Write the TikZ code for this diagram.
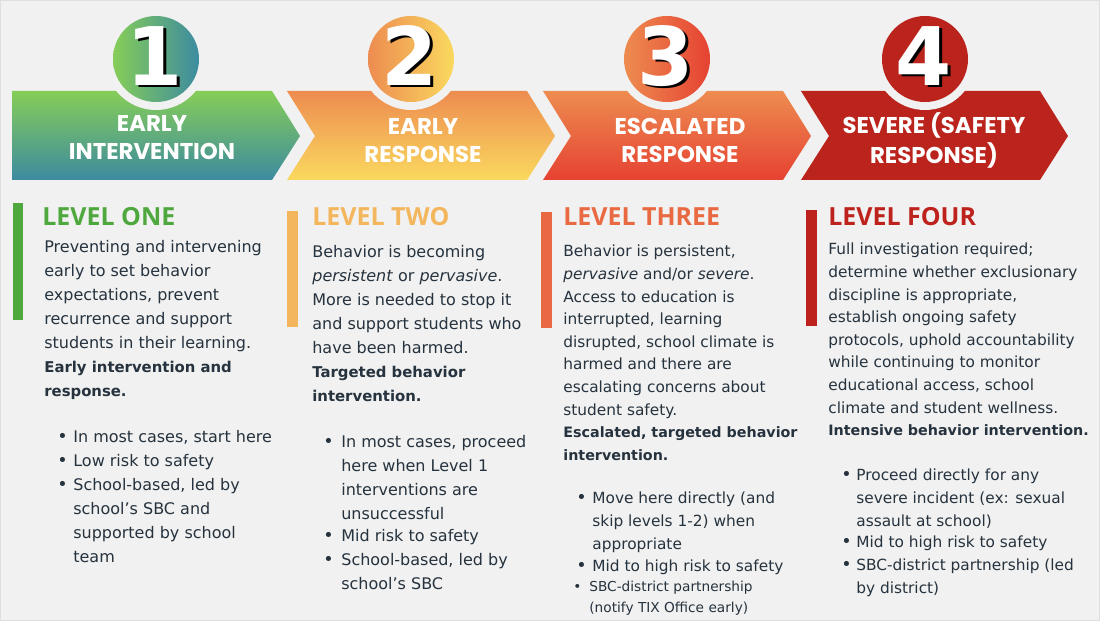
\documentclass[tikz,border=0pt]{standalone}
\usepackage{fontspec}
\setmainfont{DejaVu Sans}[BoldFeatures={Scale=0.93}]
\newfontfamily\bannerfont{Poppins}
\newfontfamily\headfont{Open Sans}
\newfontfamily\digitfont{DejaVu Sans}
\newcommand\linesof[1]{\begin{tabular}[t]{@{}l@{}}#1\end{tabular}}
\newcommand\bannerlines[1]{\begin{tabular}[t]{@{}c@{}}#1\end{tabular}}
\definecolor{paper}{RGB}{240,241,240}
\definecolor{rim}{RGB}{222,224,223}
\definecolor{ink}{RGB}{38,50,62}
\definecolor{greenTop}{RGB}{134,205,88}
\definecolor{tealBot}{RGB}{60,139,160}
\definecolor{orangeTop}{RGB}{237,140,80}
\definecolor{yellowBot}{RGB}{250,217,95}
\definecolor{redBot}{RGB}{230,66,50}
\definecolor{darkRed}{RGB}{186,36,28}
\definecolor{lvlOne}{RGB}{78,168,62}
\definecolor{lvlTwo}{RGB}{244,182,92}
\definecolor{lvlThree}{RGB}{233,106,66}
\definecolor{lvlFour}{RGB}{190,34,28}
\tikzset{
  banner/.style={font=\bannerfont\bfseries\fontsize{13}{15.9}\selectfont, text=white, inner sep=0pt, anchor=base},
  digit/.style={font=\digitfont\bfseries\fontsize{46}{46}\selectfont, text=white, inner sep=0pt},
  digitshade/.style={digit, text=black},
  levelhead/.style={font=\headfont\bfseries\fontsize{14.2}{16}\selectfont, anchor=base west, inner sep=0pt},
  blurb/.style={font=\fontsize{9.1}{13.66}\selectfont, text=ink, anchor=base west, inner sep=0pt},
  blurbtight/.style={blurb, font=\fontsize{8.75}{12.86}\selectfont},
  dot/.style={anchor=base west, inner sep=0pt, text=ink},
}
\begin{document}
\begin{tikzpicture}[x=0.02cm,y=-0.02cm]
\fill[paper] (0,0) rectangle (1100,621);
\useasboundingbox (0,0) rectangle (1100,621);
\draw[rim, line width=0.6pt] (0.5,0.5) rectangle (1099.5,620.5);

% banner arrows
\shade[top color=greenTop, bottom color=tealBot] (12,91) -- (272,91) -- (300,136) -- (272,180) -- (12,180) -- cycle;
\shade[top color=orangeTop, bottom color=yellowBot] (287,91) -- (527,91) -- (555,136) -- (527,180) -- (287,180) -- (315,136) -- cycle;
\shade[top color=orangeTop, bottom color=redBot] (543,91) -- (783,91) -- (811,136) -- (783,180) -- (543,180) -- (571,136) -- cycle;
\fill[darkRed] (801,91) -- (1040,91) -- (1068,136) -- (1040,180) -- (801,180) -- (829,136) -- cycle;

% number badges
\foreach \cx in {156,411,667,925}
  \fill[paper] (\cx,59) circle (51);
\shade[left color=greenTop, right color=tealBot] (156,59) circle (43);
\shade[left color=orangeTop, right color=yellowBot] (411,59) circle (43);
\shade[left color=orangeTop, right color=redBot] (667,59) circle (43);
\fill[darkRed] (925,59) circle (43);

\node[digitshade] at (158,58) {1};
\node[digit] (numA) at (155,56) {1};
\node[digitshade] at (413,58) {2};
\node[digit] (numB) at (410,56) {2};
\node[digitshade] at (669,58) {3};
\node[digit] (numC) at (666,56) {3};
\node[digitshade] at (927,58) {4};
\node[digit] (numD) at (924,56) {4};

\node[banner] (bandA) at (152,132) {\bannerlines{EARLY\\INTERVENTION}};
\node[banner] (bandB) at (423,135) {\bannerlines{EARLY\\RESPONSE}};
\node[banner] (bandC) at (680,135) {\bannerlines{ESCALATED\\RESPONSE}};
\node[banner] (bandD) at (934,134) {\bannerlines{SEVERE (SAFETY\\RESPONSE)}};

% level one
\fill[lvlOne] (13,203) rectangle (23,320);
\node[levelhead, text=lvlOne] (headA) at (42,226) {LEVEL ONE};
\node[blurb] (blurbA) at (44,253) {\linesof{Preventing and intervening\\early to set behavior\\expectations, prevent\\recurrence and support\\students in their learning.\\\textbf{Early intervention and}\\\textbf{response.}}};
\node[dot] at (57,443) {\textbullet};
\node[blurb] (itemA1) at (73,443) {In most cases, start here};
\node[dot] at (57,467) {\textbullet};
\node[blurb] (itemA2) at (73,467) {Low risk to safety};
\node[dot] at (57,491) {\textbullet};
\node[blurb] (itemA3) at (73,491) {\linesof{School-based, led by\\school’s SBC and\\supported by school\\team}};

% level two
\fill[lvlTwo] (287,211) rectangle (298,327);
\node[levelhead, text=lvlTwo] (headB) at (312,226) {LEVEL TWO};
\node[blurb] (blurbB) at (312,258) {\linesof{Behavior is becoming\\\textit{persistent} or \textit{pervasive}.\\More is needed to stop it\\and support students who\\have been harmed.\\\textbf{Targeted behavior}\\\textbf{intervention.}}};
\node[dot] at (323,448) {\textbullet};
\node[blurb] (itemB1) at (341,448) {\linesof{In most cases, proceed\\here when Level 1\\interventions are\\unsuccessful}};
\node[dot] at (323,542) {\textbullet};
\node[blurb] (itemB2) at (341,542) {Mid risk to safety};
\node[dot] at (323,566) {\textbullet};
\node[blurb] (itemB3) at (341,566) {\linesof{School-based, led by\\school’s SBC}};

% level three
\fill[lvlThree] (541,212) rectangle (552,328);
\node[levelhead, text=lvlThree] (headC) at (563,226) {LEVEL THREE};
\node[blurbtight] (blurbC) at (563,257) {\linesof{Behavior is persistent,\\\textit{pervasive} and/or \textit{severe}.\\Access to education is\\interrupted, learning\\disrupted, school climate is\\harmed and there are\\escalating concerns about\\student safety.\\\textbf{Escalated, targeted behavior}\\\textbf{intervention.}}};
\node[dot] at (576,504) {\textbullet};
\node[blurbtight] (itemC1) at (592,504) {\linesof{Move here directly (and\\skip levels 1-2) when\\appropriate}};
\node[dot] at (576,572) {\textbullet};
\node[blurbtight] (itemC2) at (592,572) {Mid to high risk to safety};
\node[dot, font=\fontsize{7.8}{11.9}\selectfont] at (573,592) {\textbullet};
\node[blurb, font=\fontsize{7.8}{11.9}\selectfont] (itemC3) at (589,592) {\linesof{SBC-district partnership\\(notify TIX Office early)}};

% level four
\fill[lvlFour] (806,210) rectangle (817,326);
\node[levelhead, text=lvlFour] (headD) at (828,226) {LEVEL FOUR};
\node[blurbtight] (blurbD) at (828,255) {\linesof{Full investigation required;\\determine whether exclusionary\\discipline is appropriate,\\establish ongoing safety\\protocols, uphold accountability\\while continuing to monitor\\educational access, school\\climate and student wellness.\\\textbf{Intensive behavior intervention.}}};
\node[dot] at (841,481) {\textbullet};
\node[blurbtight] (itemD1) at (856,481) {\linesof{Proceed directly for any\\severe incident (ex: sexual\\assault at school)}};
\node[dot] at (841,548) {\textbullet};
\node[blurbtight] (itemD2) at (856,548) {Mid to high risk to safety};
\node[dot] at (841,571) {\textbullet};
\node[blurbtight] (itemD3) at (856,571) {\linesof{SBC-district partnership (led\\by district)}};
\end{tikzpicture}
\end{document}
